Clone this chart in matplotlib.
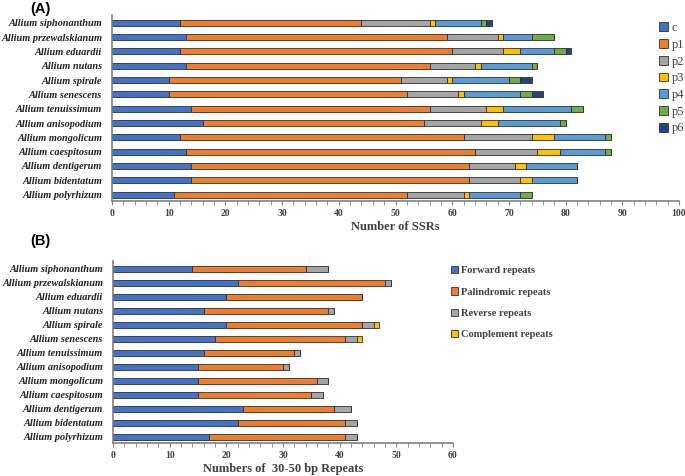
import matplotlib
matplotlib.use("Agg")
import matplotlib.pyplot as plt
import numpy as np
from matplotlib.ticker import MultipleLocator

species = ["Allium siphonanthum", "Allium przewalskianum", "Allium eduardii", "Allium nutans",
           "Allium spirale", "Allium senescens", "Allium tenuissimum", "Allium anisopodium",
           "Allium mongolicum", "Allium caespitosum", "Allium dentigerum", "Allium bidentatum",
           "Allium polyrhizum"]

# Panel A: SSR types
ssr_c  = [12, 13, 12, 13, 10, 10, 14, 16, 12, 13, 14, 14, 11]
ssr_p1 = [32, 46, 48, 43, 41, 42, 42, 39, 50, 51, 49, 49, 41]
ssr_p2 = [12, 9, 9, 8, 8, 9, 10, 10, 12, 11, 8, 9, 10]
ssr_p3 = [1, 1, 3, 1, 1, 1, 3, 3, 4, 4, 2, 2, 1]
ssr_p4 = [8, 5, 6, 9, 10, 10, 12, 11, 9, 8, 9, 8, 9]
ssr_p5 = [1, 4, 2, 1, 2, 2, 2, 1, 1, 1, 0, 0, 2]
ssr_p6 = [1, 0, 1, 0, 2, 2, 0, 0, 0, 0, 0, 0, 0]
ssr_names = ["c", "p1", "p2", "p3", "p4", "p5", "p6"]

# Panel B: long repeats
rep_forward = [14, 22, 20, 16, 20, 18, 16, 15, 15, 15, 23, 22, 17]
rep_palin   = [20, 26, 24, 22, 24, 23, 16, 15, 21, 20, 16, 19, 24]
rep_reverse = [4, 1, 0, 1, 2, 2, 1, 1, 2, 2, 3, 2, 2]
rep_comp    = [0, 0, 0, 0, 1, 1, 0, 0, 0, 0, 0, 0, 0]
rep_names = ["Forward repeats", "Palindromic repeats", "Reverse repeats", "Complement repeats"]

colA = ["#4472C4", "#ED7D31", "#A5A5A5", "#FFC000", "#5B9BD5", "#70AD47", "#264478"]
colB = ["#4472C4", "#ED7D31", "#A5A5A5", "#FFC000"]

serif = "Liberation Serif"

fig = plt.figure(figsize=(6.85, 4.76), dpi=100)
W, H = 685, 476

def ax_rect(x0, y0, x1, y1):
    return [x0 / W, 1 - y1 / H, (x1 - x0) / W, (y1 - y0) / H]

def style(ax, xmax, major):
    for s in ["top", "right"]:
        ax.spines[s].set_visible(False)
    for s in ["left", "bottom"]:
        ax.spines[s].set_color("#7f7f7f")
        ax.spines[s].set_linewidth(1.2)
    ax.set_xlim(0, xmax)
    ax.xaxis.set_major_locator(MultipleLocator(major))
    ax.xaxis.set_minor_locator(MultipleLocator(2))
    ax.tick_params(axis="x", which="both", direction="out", color="#7f7f7f", length=3, pad=3)
    ax.tick_params(axis="y", length=0, pad=7)
    for lab in ax.get_xticklabels():
        lab.set_fontfamily(serif)
        lab.set_fontweight("bold")
        lab.set_fontsize(7)
        lab.set_color("#404040")
    for lab in ax.get_yticklabels():
        lab.set_fontfamily(serif)
        lab.set_fontweight("bold")
        lab.set_fontstyle("italic")
        lab.set_fontsize(7.4)
        lab.set_color("#202020")

def stacked(ax, series, colors, names):
    y = np.arange(len(species))
    left = np.zeros(len(species))
    handles = []
    for vals, c, n in zip(series, colors, names):
        v = np.array(vals, dtype=float)
        h = ax.barh(y, v, left=left, height=0.42, color=c, edgecolor="#303030", linewidth=0.6, label=n)
        handles.append(h)
        left += v
    ax.set_yticks(y)
    ax.set_yticklabels(species)
    ax.set_ylim(len(species) - 0.55, -0.55)
    return handles

# Panel A
axA = fig.add_axes(ax_rect(112, 15, 679, 201))
hA = stacked(axA, [ssr_c, ssr_p1, ssr_p2, ssr_p3, ssr_p4, ssr_p5, ssr_p6], colA, ssr_names)
style(axA, 100, 10)
axA.set_xlabel("Number of SSRs", fontfamily=serif, fontweight="bold", fontsize=9, color="#404040", labelpad=2)
legA = fig.legend(handles=hA, labels=ssr_names, loc="upper left", bbox_to_anchor=(659 / W, 1 - 22 / H),
                  frameon=False, prop={"family": serif, "size": 9}, handlelength=0.7, handleheight=0.7,
                  handletextpad=0.3, labelspacing=0.38, borderaxespad=0, borderpad=0)
for t in legA.get_texts():
    t.set_color("#404040")
fig.text(30 / W, 1 - 9 / H, "(A)", fontfamily="Liberation Sans", fontweight="bold", fontsize=10.5, va="center")

# Panel B
axB = fig.add_axes(ax_rect(113, 261, 453, 443))
hB = stacked(axB, [rep_forward, rep_palin, rep_reverse, rep_comp], colB, rep_names)
style(axB, 60, 10)
axB.set_xlabel("Numbers of  30-50 bp Repeats", fontfamily=serif, fontweight="bold", fontsize=9, color="#404040", labelpad=2)
legB = fig.legend(handles=hB, labels=rep_names, loc="upper left", bbox_to_anchor=(451 / W, 1 - 266 / H),
                  frameon=False, prop={"family": serif, "size": 7.5, "weight": "bold"}, handlelength=0.7,
                  handleheight=0.7, handletextpad=0.3, labelspacing=1.15, borderaxespad=0, borderpad=0)
for t in legB.get_texts():
    t.set_color("#404040")
fig.text(30 / W, 1 - 241 / H, "(B)", fontfamily="Liberation Sans", fontweight="bold", fontsize=10.5, va="center")

fig.savefig("out.png", dpi=100)
